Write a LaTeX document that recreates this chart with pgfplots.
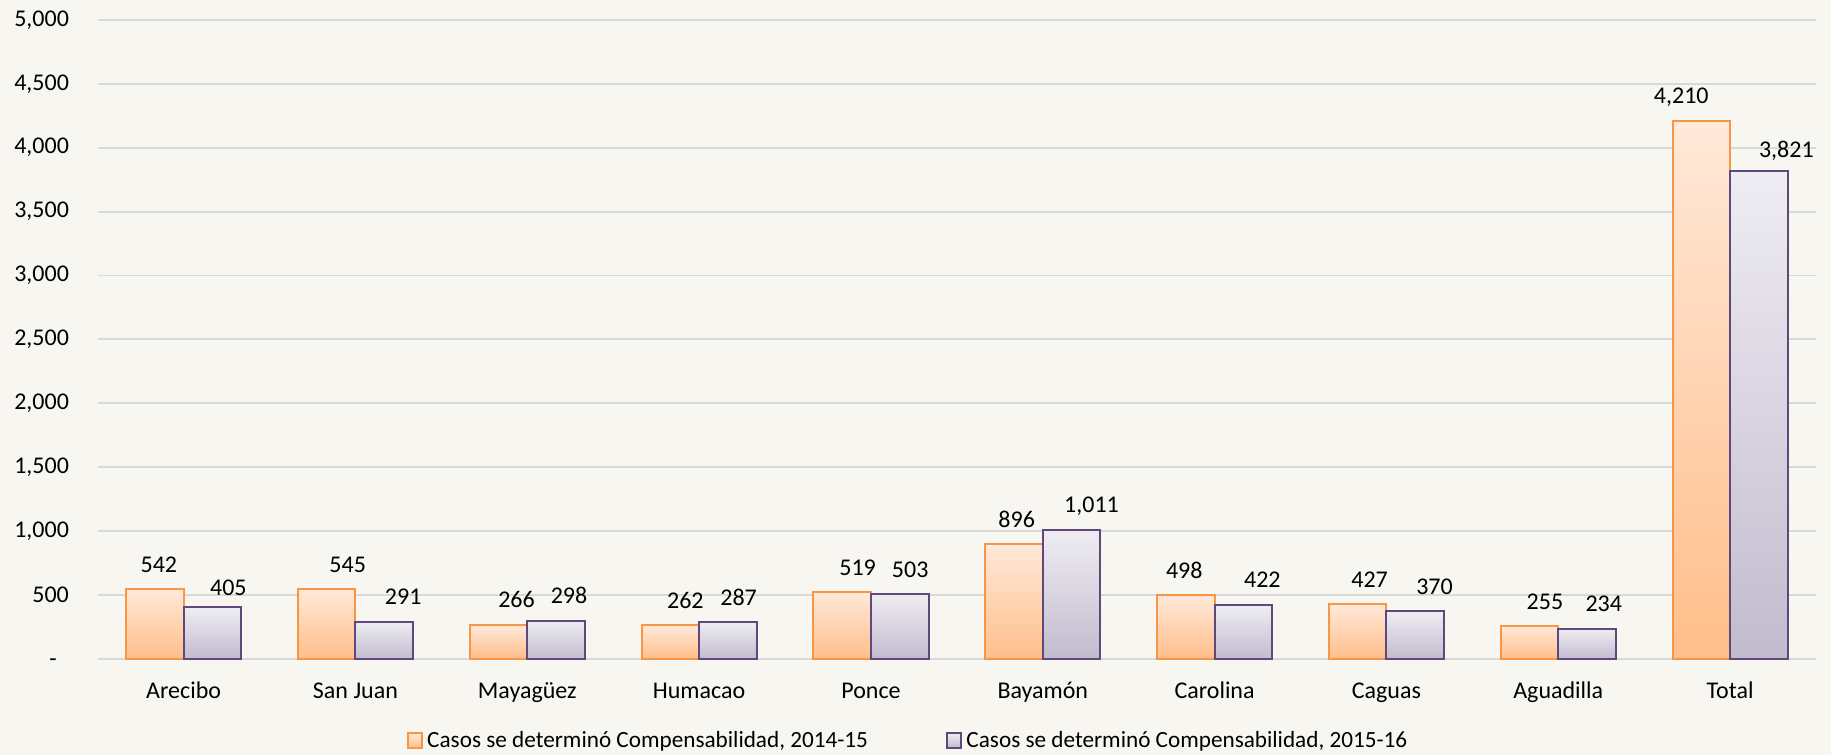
\documentclass[border=0pt]{standalone}
\usepackage{fontspec}
\setmainfont{Carlito}
\usepackage{pgfplots}
\pgfplotsset{compat=1.18}

\definecolor{bg}{RGB}{247,246,240}
\definecolor{gridc}{RGB}{217,217,217}
\definecolor{orline}{RGB}{247,150,70}
\definecolor{ortop}{RGB}{255,233,217}
\definecolor{orbot}{RGB}{255,190,138}
\definecolor{puline}{RGB}{95,73,122}
\definecolor{putop}{RGB}{239,237,243}
\definecolor{pubot}{RGB}{194,187,206}

\newcommand{\lblfont}{\fontsize{12}{14}\selectfont}
\newcommand{\legfont}{\fontsize{11.6}{14}\selectfont}

% label offsets are given relative to the category centre (bar shift = 14.39pt)
\pgfplotsset{
  obar/.style={ybar, bar width=0.335, bar shift=-0.1675, draw=orline, line width=1pt,
    top color=ortop, bottom color=orbot, forget plot, nodes near coords,
    every node near coord/.append style={anchor=base, inner sep=0pt, text=black, font=\lblfont}},
  pbar/.style={ybar, bar width=0.335, bar shift=0.1675, draw=puline, line width=1pt,
    top color=putop, bottom color=pubot, forget plot, nodes near coords,
    every node near coord/.append style={anchor=base, inner sep=0pt, text=black, font=\lblfont}},
  lbl/.style 2 args={every node near coord/.append style={xshift=#1pt, yshift=#2pt}},
}

\begin{document}
\begin{tikzpicture}
\useasboundingbox (0,0) rectangle (915.5pt,377.5pt);
\fill[bg] (0,0) rectangle (915.5pt,377.5pt);
\begin{axis}[
  at={(48.85pt,48.15pt)}, anchor=south west,
  scale only axis, width=859.15pt, height=319.35pt,
  xmin=-0.5, xmax=9.5, ymin=0, ymax=5000,
  axis line style={draw=none},
  tick style={draw=none}, major tick length=0pt,
  ytick={0,500,...,5000},
  yticklabels={{-\phantom{0}},500,{1,000},{1,500},{2,000},{2,500},{3,000},{3,500},{4,000},{4,500},{5,000}},
  xtick={0,...,9},
  xticklabels={Arecibo,San Juan,Mayagüez,Humacao,Ponce,Bayamón,Carolina,Caguas,Aguadilla,Total},
  ymajorgrids, major grid style={draw=gridc, line width=0.9pt},
  xticklabel style={anchor=base, inner sep=0pt, yshift=-19.8pt, font=\lblfont},
  yticklabel style={anchor=east, inner sep=0pt, xshift=-14.2pt, font=\lblfont},
  /pgf/number format/.cd, 1000 sep={,}, assume math mode=true, /pgfplots/.cd,
  clip=false,
  legend columns=2,
  legend style={at={(0.4722,-0.128)}, anchor=center, draw=none, fill=none,
    inner sep=0pt, font=\legfont,
    /tikz/every even column/.append style={column sep=37pt}},
  legend image code/.code={\draw[#1] (0pt,-3.6pt) rectangle (7.2pt,3.6pt);},
]
\addlegendimage{draw=orline, line width=1pt, top color=ortop, bottom color=orbot}
\addlegendentry{Casos se determinó Compensabilidad, 2014-15}
\addlegendimage{draw=puline, line width=1pt, top color=putop, bottom color=pubot}
\addlegendentry{Casos se determinó Compensabilidad, 2015-16}

% 2014-15
\addplot[obar, lbl={-12.39}{8.5}] coordinates {(0,542)};
\addplot[obar, lbl={-3.89}{8.5}]  coordinates {(1,545)};
\addplot[obar, lbl={-5.39}{8.5}]  coordinates {(2,266)};
\addplot[obar, lbl={-6.89}{8.5}]  coordinates {(3,262)};
\addplot[obar, lbl={-6.64}{8.5}]  coordinates {(4,519)};
\addplot[obar, lbl={-13.04}{8.5}] coordinates {(5,896)};
\addplot[obar, lbl={-15.14}{8.5}] coordinates {(6,498)};
\addplot[obar, lbl={-8.39}{8.5}]  coordinates {(7,427)};
\addplot[obar, lbl={-6.64}{8.5}]  coordinates {(8,255)};
\addplot[obar, lbl={-24.39}{8.65}] coordinates {(9,4210)};
% 2015-16
\addplot[pbar, lbl={22.39}{5.85}] coordinates {(0,405)};
\addplot[pbar, lbl={23.89}{8.5}]  coordinates {(1,291)};
\addplot[pbar, lbl={20.89}{8.5}]  coordinates {(2,298)};
\addplot[pbar, lbl={19.74}{8.5}]  coordinates {(3,287)};
\addplot[pbar, lbl={19.64}{8.5}]  coordinates {(4,503)};
\addplot[pbar, lbl={24.39}{8.5}]  coordinates {(5,1011)};
\addplot[pbar, lbl={23.89}{8.5}]  coordinates {(6,422)};
\addplot[pbar, lbl={24.04}{8.5}]  coordinates {(7,370)};
\addplot[pbar, lbl={22.74}{8.5}]  coordinates {(8,234)};
\addplot[pbar, lbl={28.14}{6.65}] coordinates {(9,3821)};
\end{axis}
\end{tikzpicture}
\end{document}
